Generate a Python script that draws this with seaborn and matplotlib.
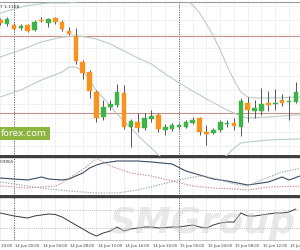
import matplotlib
matplotlib.use("Agg")
import matplotlib.pyplot as plt
import matplotlib.transforms as mtransforms
from matplotlib.patches import Rectangle
import seaborn as sns
import numpy as np
import pandas as pd

sns.set_style("white")
plt.rcParams['font.family'] = ['DejaVu Sans']

# ---- data (hours relative to 14 Jun 00:00, H1 candles) ----
hours = list(range(-2, 42))
opens  = [136,132,131,128,131,126,136,133,138,134,125,120,94,84,64,39,49,51,63,29,
          34,28,37,41,26,27,29,29,33,38,24,23,26,32,33,29,53,45,45,53,52,56,54,54]
highs  = [138,139,133,132,132,136,139,138,139,136,129,128,96,86,66,56,56,72,71,37,
          43,43,46,43,32,33,33,36,39,39,31,28,36,36,38,58,59,56,68,65,67,62,60,74]
lows   = [131,130,126,126,124,125,134,129,132,125,121,92,77,58,34,36,46,49,27,9,
          24,26,34,24,21,25,27,28,32,21,11,22,24,29,26,20,34,38,41,45,46,50,36,53]
closes = [133,137,127,130,125,134,135,137,134,127,122,95,83,65,38,49,52,64,29,35,
          28,38,40,27,29,31,31,34,36,24,22,26,34,33,30,55,46,48,52,51,53,53,55,64]

upper_h = [-2,0,2,5,8,10,11,13,17,21,24,25,26,27,28,29,30,31,32,33,34,35,38,41,42]
upper_v = [143,147,150.5,153,153,155,159,168,178,174,162,155.5,151,143,132,120,106,90,76,64,59,58,58,59,59]
middle_h = [-2,1,4,7,9,10,12,14,16,18,20,22,25,28,31,33,34,37,41,42]
middle_v = [99,106,114,119,120,119.5,117,112,105,98,92,82,69,57,46,40,38,39,41,41]
lower_h = [-2,1,4,7,8,9,10,11,12,13,14,15,16,17,18,19,20,21,23,26,29,31,32,33,34,37,41,42]
lower_v = [59,66,76,84,89,89,85,76,65,58,50,42,35,28,21,14,8,1,-7,-12,-7,1,8,13,14,16,17,17]

levels = [120, 43]

adx_h = [-2,0,2,4,5,7,8,10,11,12,13,15,18,20,23,25,27,29,31,34,37,39,40,42]
adx_v = [18,17,16,19,17,16,17,23,28,31,33,35,35,34,32,25,21,17,15,11,14,19,16,21]
mdi_h = [-2,2,6,7,8.5,10.5,12,14,17,20,23,26,29,32,34,37,42]
mdi_v = [10,8,10,13,20,29,38,30,23,20,15,10,8,7,6,9,10]
pdi_h = [-2,3,5,8,10,12,15,18,21,24,27,29,32,34,36,39,42]
pdi_v = [14,9,7,5,4,3,3,6,11,16,20,18,12,10,16,24,28]

rsi = [63.3,60,56.7,54.4,52.2,56.7,58.9,61.1,60,54.4,45.6,36.7,27.8,18.9,12.2,18.9,23.3,32.2,23.3,27.8,
       30,32.2,32.2,30,31.1,32.2,32.2,34.4,36.7,32.2,30,36.7,41.1,43.3,43.3,63.3,56.7,56.7,58.9,61.1,
       63.3,63.3,65.6,72.2]
rsi_levels = [70, 30]

tick_hours = [-4,0,4,8,12,16,20,24,28,32,36,40]
tick_labels = ["13 Jun 20:00","14 Jun 00:00","14 Jun 04:00","14 Jun 08:00","14 Jun 12:00",
               "14 Jun 16:00","14 Jun 20:00","15 Jun 00:00","15 Jun 04:00","15 Jun 08:00",
               "15 Jun 12:00","15 Jun 16:00"]
day_breaks = [0, 24]

# ---- figure ----
W, H = 300, 250
fig = plt.figure(figsize=(3, 2.5), dpi=100)
fig.patch.set_facecolor('white')

def px_axes(top, bottom):
    return fig.add_axes([0, 1 - bottom / H, 1, (bottom - top) / H])

ax = px_axes(2, 156)
ax2 = px_axes(157, 196)
ax3 = px_axes(197, 240)

XL = (-14 / 6.875, 286 / 6.875)
GRID = '#efefef'
DARK = '#3c3c3c'
BAND = '#b5cbc4'

for a in (ax, ax2, ax3):
    a.set_xlim(*XL)
    a.set_xticks([])
    a.set_yticks([])
    a.set_facecolor('white')
    for h in range(-2, 44, 2):
        a.axvline(h, color=GRID, lw=0.6, zorder=0)
    for d in day_breaks:
        a.axvline(d, color='#555555', lw=0.7, ls=(0, (1, 1.5)), zorder=1)
    for s in ('left', 'right'):
        a.spines[s].set_visible(False)

ax.spines['top'].set_color('#9a9a9a'); ax.spines['top'].set_linewidth(0.8)
ax.spines['bottom'].set_color(DARK); ax.spines['bottom'].set_linewidth(1.4)
ax2.spines['top'].set_color(DARK); ax2.spines['top'].set_linewidth(1.0)
ax2.spines['bottom'].set_color(DARK); ax2.spines['bottom'].set_linewidth(1.4)
ax3.spines['top'].set_color(DARK); ax3.spines['top'].set_linewidth(1.0)
ax3.spines['bottom'].set_color('#bbbbbb'); ax3.spines['bottom'].set_linewidth(0.6)

# ---- main panel ----
ax.set_ylim(0, 154)
for yv in range(10, 154, 14):
    ax.axhline(yv, color=GRID, lw=0.6, zorder=0)

for lv in levels:
    ax.axhline(lv, color='#c8908c', lw=0.8, zorder=2)

bands = pd.concat([
    pd.DataFrame({'h': upper_h, 'v': upper_v, 'b': 'upper'}),
    pd.DataFrame({'h': middle_h, 'v': middle_v, 'b': 'middle'}),
    pd.DataFrame({'h': lower_h, 'v': lower_v, 'b': 'lower'}),
])
sns.lineplot(data=bands, x='h', y='v', units='b', estimator=None, sort=False,
             color=BAND, lw=0.75, ax=ax, legend=False, zorder=3)

o = np.array(opens, float); c = np.array(closes, float)
up = c >= o
cols = np.where(up, '#3db34a', '#f7931e')
ax.vlines(hours, lows, highs, colors='#555555', lw=0.7, zorder=4)
heights = np.maximum(np.abs(c - o), 0.9)
ax.bar(hours, heights, bottom=np.minimum(o, c), width=0.66, color=cols,
       edgecolor=cols, lw=0.3, zorder=5)

ax.text(0.0, 0.965, "7 1.1168", transform=ax.transAxes, fontsize=3.2,
        color='#333333', ha='left', va='center')

# forex.com watermark
ax.add_patch(Rectangle((0, (156 - 140) / 154), 50 / 300, 13 / 154,
                       transform=ax.transAxes, facecolor='#8db53f', edgecolor='none', zorder=7))
ax.text(0.004, (156 - 133.5) / 154, "forex.com", transform=ax.transAxes, fontsize=6.6,
        color='white', ha='left', va='center', zorder=8)

# ---- ADX panel ----
ax2.set_ylim(0, 39)
sns.lineplot(x=adx_h, y=adx_v, ax=ax2, color='#3d4a63', lw=0.8, zorder=3)
sns.lineplot(x=mdi_h, y=mdi_v, ax=ax2, color='#c98c8c', lw=0.8, ls=(0, (1.2, 1.2)), zorder=3)
sns.lineplot(x=pdi_h, y=pdi_v, ax=ax2, color='#9aa7a0', lw=0.8, ls=(0, (1.2, 1.2)), zorder=3)
ax2.text(0.0, 0.88, "0.9965", transform=ax2.transAxes, fontsize=3.0,
         color='#333333', ha='left', va='center')

# ---- oscillator panel ----
ax3.set_ylim(3.3, 98.9)
for lv in rsi_levels:
    ax3.axhline(lv, color='#a8a8a8', lw=0.6, ls=(0, (1, 1.5)), zorder=1)
sns.lineplot(x=hours, y=rsi, ax=ax3, color='#3a3a3a', lw=0.7, zorder=3)

# time labels
trans = mtransforms.blended_transform_factory(ax3.transData, fig.transFigure)
for th, tl in zip(tick_hours, tick_labels):
    ax3.text(th + 0.15, 1 - 245.5 / H, tl, transform=trans, fontsize=2.7,
             color='#333333', ha='left', va='center', clip_on=False)

for a in (ax, ax2, ax3):
    a.set_xlabel(''); a.set_ylabel('')

# SMGroup watermark
fig.text(0.985, 0.11, "SMGroup", fontsize=26, fontstyle='italic', fontweight='bold',
         color='#cfcfcf', alpha=0.45, ha='right', va='center', zorder=10)

fig.savefig("out.png", dpi=100, facecolor='white')
